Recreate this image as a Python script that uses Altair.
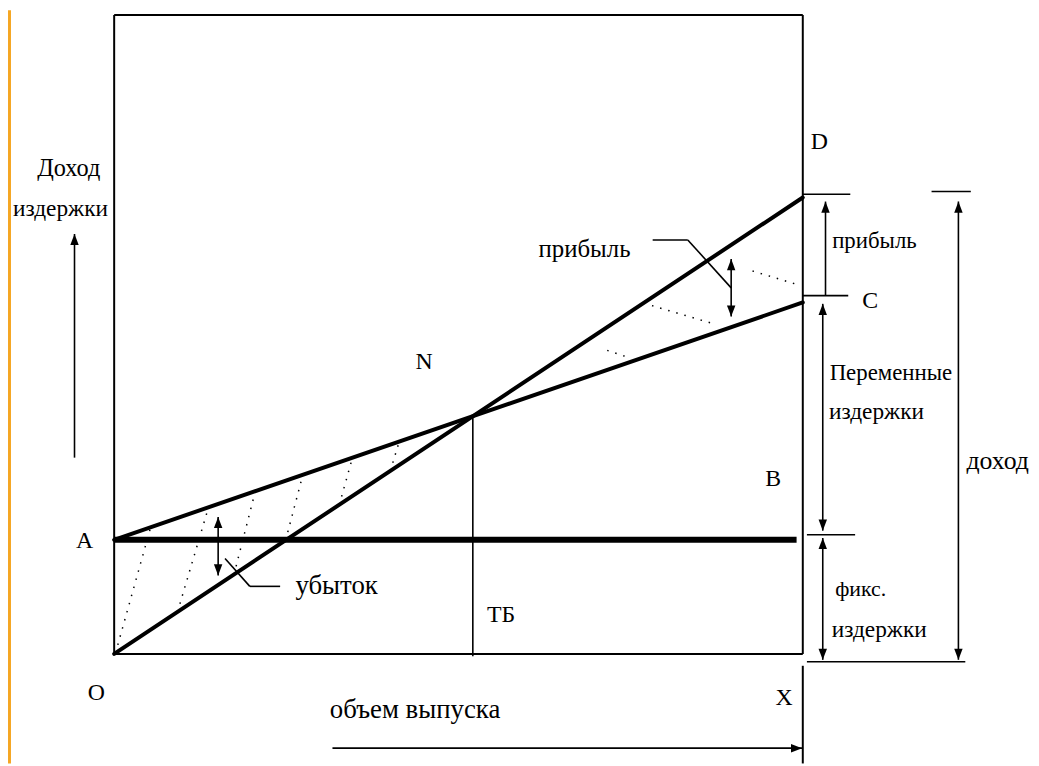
import altair as alt
import pandas as pd

# ---- economic values of the break-even diagram (volume q, money m) ----
Q_MAX = 100          # output volume at X
M_TOP = 140          # top of the frame
PRICE = 1.0          # revenue per unit
FIXED_COST = 25      # fixed costs (A-B)
VAR_COST = 0.52      # variable cost per unit
Q_BE = FIXED_COST / (PRICE - VAR_COST)   # break-even volume (ТБ)
REV_END = PRICE * Q_MAX                  # D
TC_END = FIXED_COST + VAR_COST * Q_MAX   # C

# dotted hatch lines in the loss triangle (start on revenue line, end on cost line)
loss_hatch_q0 = [0.2, 9.2, 17.4, 24.9, 32.7, 40.1]
loss_hatch_q1 = [5.3, 13.7, 20.5, 27.4, 34.6, 41.4]
# dotted hatch lines in the profit triangle
profit_hatch_q0 = [92.7, 78.1, 71.6]
profit_hatch_m0 = [83.9, 76.3, 66.5]
profit_hatch_q1 = [99.7, 86.9, 74.2]
profit_hatch_m1 = [80.7, 72.4, 65.2]

# text labels
label_text = ["Доход", "издержки", "N", "A", "O", "ТБ", "объем выпуска", "X", "B",
              "D", "C", "прибыль", "Переменные", "издержки", "доход", "фикс.",
              "издержки", "убыток", "прибыль"]
label_q = [-6.6, -7.8, 45.0, -4.3, -2.6, 56.2, 43.7, 97.3, 95.7,
           102.4, 109.8, 110.4, 112.8, 110.7, 128.3, 108.4,
           111.1, 32.3, 68.3]
label_m = [106.3, 97.4, 63.9, 24.8, -8.5, 8.5, -12.2, -9.6, 38.3,
           112.2, 77.4, 90.4, 61.5, 53.0, 42.2, 14.3,
           5.2, 14.8, 88.7]
label_size = [24.5, 23.5, 24, 24, 24, 24, 27, 24, 24,
              24, 24, 23, 23, 23.5, 26, 22,
              23.5, 27, 25]

# ---- scales: plot area spans the whole visible page ----
XD = [-15.418, 133.141]
YD = [-23.913, 140.870]
xs = alt.Scale(domain=XD, nice=False, zero=False)
ys = alt.Scale(domain=YD, nice=False, zero=False)


def seg_df(rows):
    return pd.DataFrame(rows, columns=["q", "m", "q2", "m2"])


def rule_layer(rows, width, dash=None, color="black", cap="butt"):
    kw = dict(strokeWidth=width, color=color, strokeCap=cap)
    if dash is not None:
        kw["strokeDash"] = dash
    return alt.Chart(seg_df(rows)).mark_rule(**kw).encode(
        x=alt.X("q:Q", scale=xs, axis=None),
        y=alt.Y("m:Q", scale=ys, axis=None),
        x2="q2:Q", y2="m2:Q")


# main lines
main_lines = rule_layer([
    (0, 0, Q_MAX, REV_END),
    (0, FIXED_COST, Q_MAX, TC_END),
], 4, cap="round")
fixed_line = rule_layer([(0, FIXED_COST, 99.1, FIXED_COST)], 6)

# frame
frame = rule_layer([
    (0, 0, Q_MAX, 0), (0, M_TOP, Q_MAX, M_TOP),
    (0, 0, 0, M_TOP), (Q_MAX, 0, Q_MAX, M_TOP),
    (Q_MAX, -2.6, Q_MAX, -24),
], 2)

# orange slide edge
edge = rule_layer([(-15.2, -24, -15.2, 141)], 3, color="#f5a623")

# thin construction lines, leaders, dimension lines
thin = rule_layer([
    (Q_BE, -0.5, Q_BE, PRICE * Q_BE),          # ТБ
    (15.1, 17.2, 15.1, 30.0),                  # loss arrow
    (16.1, 20.9, 19.7, 14.8), (19.7, 14.8, 24.1, 14.8),   # loss leader
    (89.6, 73.9, 89.6, 86.5),                  # profit arrow
    (78.2, 90.7, 83.3, 90.7), (83.3, 90.7, 89.6, 80.2),   # profit leader
    (100, 100.7, 106.9, 100.7),                # D tick
    (100, 78.5, 106.6, 78.5),                  # C tick
    (100.6, 26.1, 107.6, 26.1),                # fixed tick
    (100.6, -1.7, 123.6, -1.7),                # bottom tick
    (118.7, 101.3, 124.4, 101.3),              # revenue tick
    (103.3, 99.1, 103.3, 78.5),                # profit dim
    (102.9, 76.7, 102.9, 27.0),                # variable dim
    (102.9, 25.4, 102.9, -1.3),                # fixed dim
    (122.6, 99.1, 122.6, -1.3),                # revenue dim
    (-5.76, 43.0, -5.76, 92.0),                # left axis arrow
    (31.7, -20.65, 99.9, -20.65),              # bottom axis arrow
], 1.6)

# dotted hatching
hatch_rows = [(a, PRICE * a, b, FIXED_COST + VAR_COST * b)
              for a, b in zip(loss_hatch_q0, loss_hatch_q1)]
hatch_rows += list(zip(profit_hatch_q0, profit_hatch_m0, profit_hatch_q1, profit_hatch_m1))
hatch = rule_layer(hatch_rows, 1.5, dash=[1.5, 7])

# arrowheads (tip at the point)
UP = "M0,0L-0.38,1L0.38,1Z"
DOWN = "M0,0L-0.38,-1L0.38,-1Z"
RIGHT = "M0,0L-1,-0.38L-1,0.38Z"
heads = pd.DataFrame({
    "q": [15.1, 15.1, 89.6, 89.6, 103.3, 102.9, 102.9, 102.9, 102.9, 122.6, 122.6, -5.76, 99.9],
    "m": [30.0, 17.2, 86.5, 73.9, 99.1, 76.7, 27.0, 25.4, -1.3, 99.1, -1.3, 92.0, -20.65],
    "shape": [UP, DOWN, UP, DOWN, UP, UP, DOWN, UP, DOWN, UP, DOWN, UP, RIGHT],
})
arrow_heads = alt.Chart(heads).mark_point(filled=True, color="black", opacity=1, size=500, strokeWidth=0).encode(
    x=alt.X("q:Q", scale=xs, axis=None),
    y=alt.Y("m:Q", scale=ys, axis=None),
    shape=alt.Shape("shape:N", scale=None),
)

labels_df = pd.DataFrame({"t": label_text, "q": label_q, "m": label_m, "s": label_size})
labels = alt.Chart(labels_df).mark_text(font="Liberation Serif", color="black",
                                         align="center", baseline="middle").encode(
    x=alt.X("q:Q", scale=xs, axis=None),
    y=alt.Y("m:Q", scale=ys, axis=None),
    text="t:N",
    size=alt.Size("s:Q", scale=None, legend=None),
)

chart = alt.layer(edge, frame, hatch, thin, fixed_line, main_lines, arrow_heads, labels).properties(
    width=1031, height=758, padding=0,
    autosize=alt.AutoSizeParams(type="none"),
    background="white",
).configure_view(stroke=None)

chart.save("out.html", embed_options={"renderer": "svg", "actions": False})
